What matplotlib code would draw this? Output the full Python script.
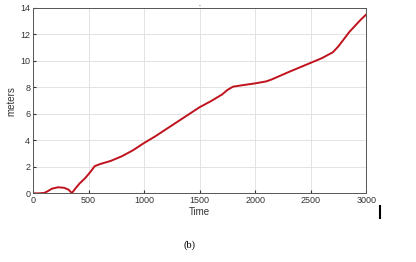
import matplotlib
matplotlib.use('Agg')
import matplotlib.pyplot as plt

# Dữ liệu
time = [0, 50, 100, 130, 170, 225, 280, 320, 350, 380, 420, 470, 520, 555,
        600, 700, 800, 900, 1000, 1100, 1200, 1300, 1400, 1500, 1600, 1650,
        1700, 1750, 1800, 1900, 2000, 2100, 2150, 2300, 2400, 2500, 2600,
        2700, 2750, 2850, 2950, 3000]
meters = [0, 0, 0.03, 0.15, 0.35, 0.46, 0.42, 0.28, 0.02, 0.35, 0.75, 1.15,
          1.65, 2.05, 2.2, 2.45, 2.8, 3.25, 3.8, 4.3, 4.85, 5.4, 5.95, 6.5,
          6.95, 7.2, 7.45, 7.8, 8.05, 8.18, 8.3, 8.45, 8.6, 9.15, 9.5, 9.85,
          10.2, 10.65, 11.1, 12.2, 13.1, 13.5]
xticks = [0, 500, 1000, 1500, 2000, 2500, 3000]
yticks = [0, 2, 4, 6, 8, 10, 12, 14]

plt.rcParams['font.family'] = ['Liberation Sans', 'DejaVu Sans']

fig = plt.figure(figsize=(4.16, 2.62), dpi=100)
ax = fig.add_axes([0.0793, 0.262, 0.801, 0.708])

ax.plot(time, meters, color='#c0121c', linewidth=1.4)

ax.set_xlim(0, 3000)
ax.set_ylim(0, 14)
ax.set_xticks(xticks)
ax.set_yticks(yticks)
ax.grid(True, color='#e3e3e3', linewidth=0.7)
ax.tick_params(direction='in', length=2, labelsize=6.5, colors='#333333', pad=2)
for s in ax.spines.values():
    s.set_color('#555555')
    s.set_linewidth(0.7)

ax.set_xlabel('Time', fontsize=7, color='#333333', labelpad=1)
ax.set_ylabel('meters', fontsize=7, color='#333333', labelpad=3)

# Ký hiệu phụ
fig.text(190 / 416, 1 - 245 / 262, '(b)', ha='center', va='center',
         fontsize=7.5, family=['Liberation Serif', 'DejaVu Serif'])
fig.add_artist(plt.Line2D([380 / 416, 380 / 416], [1 - 206 / 262, 1 - 218 / 262],
                          color='black', linewidth=1.5))
fig.text(199 / 416, 1 - 4 / 262, '.', ha='center', va='center', fontsize=5)

fig.savefig('out.png', dpi=100)
